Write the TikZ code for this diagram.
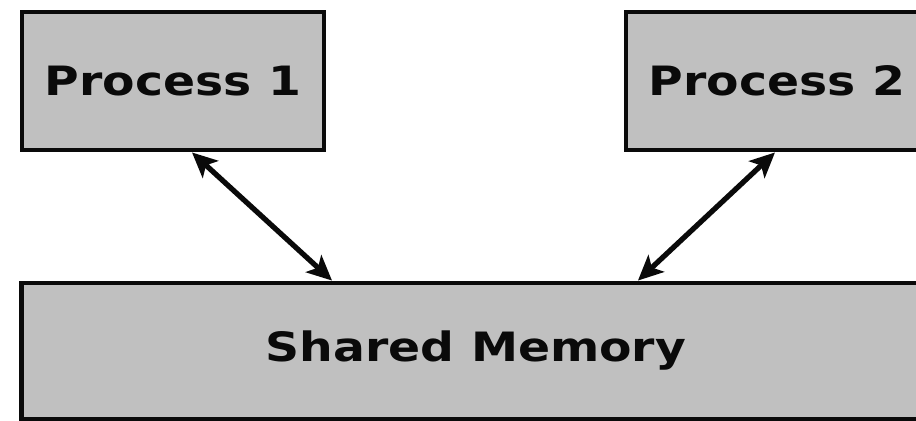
\documentclass[tikz,border=0pt]{standalone}
\usepackage{fontspec}
\usepackage{tikz}
\usetikzlibrary{arrows.meta,positioning,calc}
\newfontfamily\boxfont{DejaVu Sans}
\definecolor{BoxGray}{RGB}{192,192,192}
\definecolor{EdgeBlack}{RGB}{10,10,10}
\tikzset{
  pbox/.style   ={rectangle, draw=EdgeBlack, line width=2.8pt, fill=BoxGray,
                  text=EdgeBlack, align=center, inner sep=0pt,
                  font=\boxfont\bfseries\fontsize{23}{26}\selectfont},
  darr/.style   ={{Stealth[length=5mm,width=4.6mm,inset=1.2mm]}-{Stealth[length=5mm,width=4.6mm,inset=1.2mm]},
                  draw=EdgeBlack, line width=3pt},
}
\newcommand{\wide}[1]{\scalebox{1.17}[1]{#1}}

\begin{document}
\begin{tikzpicture}[x=0.02cm,y=-0.02cm]
  \useasboundingbox (0,0) rectangle (916,420);
  \clip (0,0) rectangle (916,420);
  \node[pbox,minimum width=6.04cm,minimum height=2.76cm] (p1) at (173,81) {\wide{Process 1}};
  \node[pbox,minimum width=6.04cm,minimum height=2.76cm] (p2) at (777,81) {\wide{Process 2}};
  \node[pbox,minimum width=18.2cm,minimum height=2.72cm] (mem) at (476,351) {\raisebox{-0.1cm}{\wide{Shared Memory}}};
  \draw[darr] ([xshift=0.38cm]p1.south) -- ([xshift=-2.88cm]mem.north);
  \draw[darr] ([xshift=-0.04cm]p2.south) -- ([xshift=3.24cm]mem.north);
\end{tikzpicture}
\end{document}
